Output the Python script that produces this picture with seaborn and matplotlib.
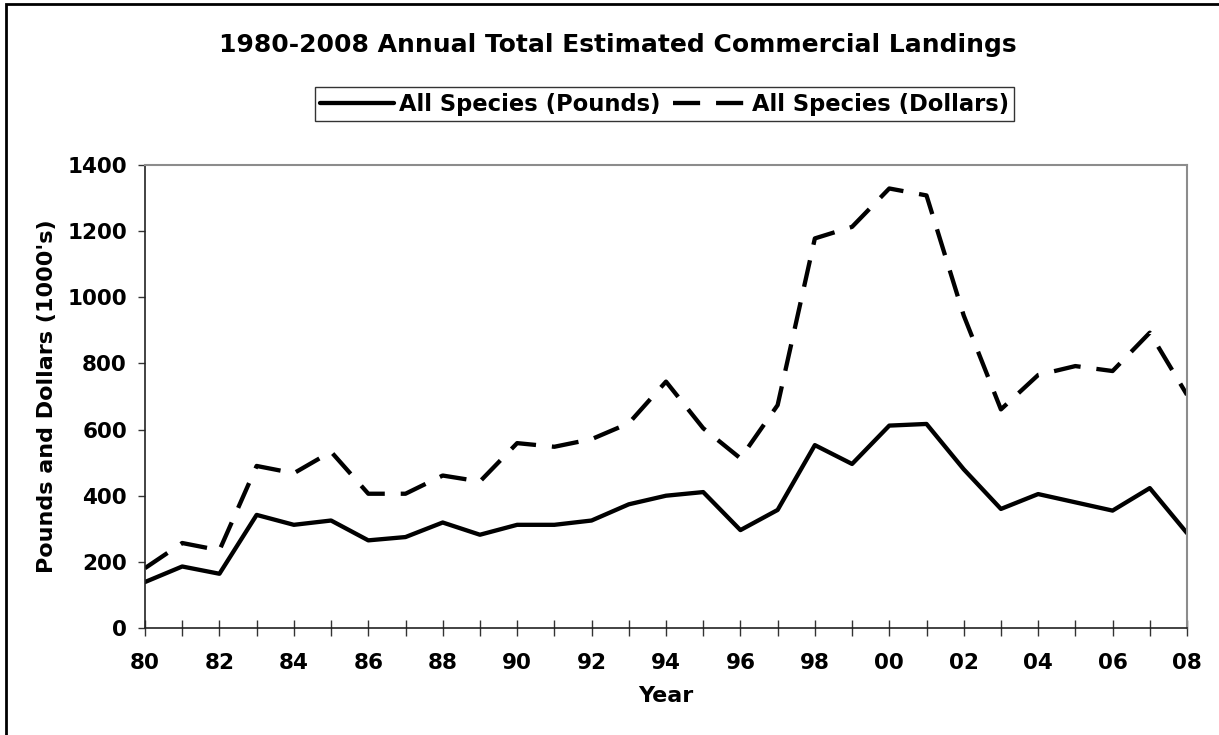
import matplotlib
matplotlib.use("Agg")
import matplotlib.pyplot as plt
import seaborn as sns
import pandas as pd
from matplotlib.patches import Rectangle

years = list(range(1980, 2009))
pounds = [139, 186, 164, 342, 312, 325, 265, 275, 319, 282, 312, 312, 325, 374, 400,
          411, 296, 357, 553, 496, 612, 617, 480, 360, 405, 380, 355, 423, 287]
dollars = [181, 257, 235, 490, 468, 533, 406, 406, 461, 443, 559, 548, 571, 619, 745,
           604, 513, 674, 1178, 1213, 1329, 1308, 945, 661, 765, 792, 777, 893, 705]
series_names = ["All Species (Pounds)", "All Species (Dollars)"]

df = pd.DataFrame({"Year": years, series_names[0]: pounds, series_names[1]: dollars})
long_df = df.melt(id_vars="Year", var_name="Series", value_name="Value")

sns.set_style("white")
plt.rcParams["font.family"] = ["DejaVu Sans"]
plt.rcParams["text.color"] = "black"
plt.rcParams["axes.labelcolor"] = "black"
plt.rcParams["xtick.color"] = "black"
plt.rcParams["ytick.color"] = "black"

fig = plt.figure(figsize=(12.19, 7.35), dpi=100)
ax = fig.add_axes([145 / 1219, 1 - 628 / 735, 1042 / 1219, 463 / 735])

dash = (6.3, 3.7)
sns.lineplot(data=long_df, x="Year", y="Value", hue="Series", style="Series",
             palette=["black", "black"], dashes=[(None, None), dash],
             linewidth=3.1, ax=ax, legend=True)

ax.set_xlim(1980, 2008)
ax.set_ylim(0, 1400)
ax.set_xticks(years)
ax.set_xticklabels([f"{y % 100:02d}" if (y - 1980) % 2 == 0 else "" for y in years])
ax.set_yticks(range(0, 1401, 200))
ax.tick_params(axis="x", bottom=True, direction="inout", length=12, width=1,
               color="#333333", labelsize=15.5, pad=12)
ax.tick_params(axis="y", left=True, direction="out", length=5, width=1,
               color="#333333", labelsize=15.5, pad=8)
for lab in ax.get_xticklabels() + ax.get_yticklabels():
    lab.set_fontweight("bold")

for side in ["top", "right"]:
    ax.spines[side].set_color("#8c8c8c")
    ax.spines[side].set_linewidth(1.5)
for side in ["left", "bottom"]:
    ax.spines[side].set_color("#222222")
    ax.spines[side].set_linewidth(1.2)

ax.set_xlabel("Year", fontsize=16, fontweight="bold", labelpad=9)
ax.set_ylabel("Pounds and Dollars (1000's)", fontsize=16, fontweight="bold", labelpad=7)

fig.text(618 / 1219, 1 - 45 / 735, "1980-2008 Annual Total Estimated Commercial Landings",
         ha="center", va="center", fontsize=18, fontweight="bold")

handles, labels = ax.get_legend_handles_labels()
ax.get_legend().remove()
leg = fig.legend(handles, labels, loc="center", bbox_to_anchor=(664.5 / 1219, 1 - 104 / 735),
                 ncol=2, frameon=True, fancybox=False, framealpha=1, edgecolor="#333333",
                 prop={"size": 16.3, "weight": "bold"}, handlelength=3.27,
                 handletextpad=0.22, columnspacing=0.53, borderpad=0.25)
leg.get_frame().set_linewidth(1.0)
for h in leg.get_lines():
    h.set_linewidth(3.1)

fig.patches.append(Rectangle((6 / 1219, -0.05), 1.05, 1.05 - 4 / 735, transform=fig.transFigure,
                             fill=False, edgecolor="black", linewidth=2))

fig.savefig("out.png", dpi=100)
